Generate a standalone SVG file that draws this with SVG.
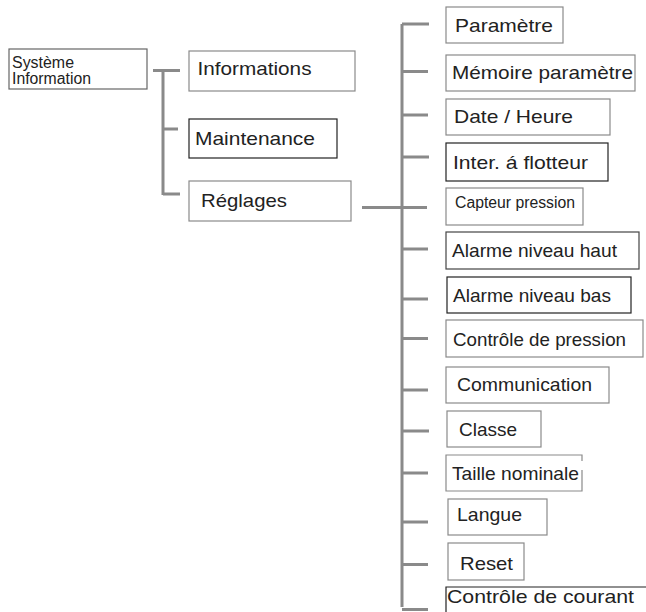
<svg xmlns="http://www.w3.org/2000/svg" width="646" height="612" viewBox="0 0 646 612">
<style>
  .box { fill: #fff; stroke: #8a8a8a; stroke-width: 1.2; }
  .dark { stroke: #222; }
  .mid { stroke: #444; }
  .t { font-family: "Liberation Sans", Arial, sans-serif; font-size: 19px; fill: #222; }
  .s { font-size: 16px; }
  .c { stroke: #8a8a8a; stroke-width: 3; fill: none; }
</style>
<rect width="646" height="612" fill="#fff"/>
<g id="connectors">
  <path class="c" d="M153,70.5 H180 M163,70.5 V195 M163,129 H178 M163,194 H180"/>
  <path class="c" d="M362,207.5 H427"/>
  <path class="c" d="M402,24 V607 M402,24 H429 M402,71.5 H428 M402,115 H428 M402,157 H429 M402,249 H428 M402,299 H428 M402,338.5 H428 M402,390 H428 M402,431 H429 M402,473 H428 M402,522 H428 M402,564.5 H428 M402,609.5 H428"/>
</g>
<g id="systeme"><rect class="box" style="stroke:#666" x="9" y="49" width="138" height="40"/><text class="t s" x="12" y="67.5" textLength="62" lengthAdjust="spacingAndGlyphs">Système</text><text class="t s" x="12" y="84" textLength="79" lengthAdjust="spacingAndGlyphs">Information</text></g>
<g id="informations"><rect class="box" x="189" y="51" width="166" height="40"/><text class="t" x="197.5" y="75" textLength="114" lengthAdjust="spacingAndGlyphs">Informations</text></g>
<g id="maintenance"><rect class="box dark" x="189" y="119" width="148" height="39"/><text class="t" x="195" y="144.5" textLength="120" lengthAdjust="spacingAndGlyphs">Maintenance</text></g>
<g id="reglages"><rect class="box" x="189" y="181" width="162" height="40"/><text class="t" x="201" y="206.5" textLength="86" lengthAdjust="spacingAndGlyphs">Réglages</text></g>
<g id="parametre"><rect class="box" x="446" y="7" width="117" height="36"/><text class="t" x="455" y="31.5" textLength="98" lengthAdjust="spacingAndGlyphs">Paramètre</text></g>
<g id="memoire"><rect class="box" x="446" y="55" width="189" height="36"/><text class="t" x="452" y="78.5" textLength="181" lengthAdjust="spacingAndGlyphs">Mémoire paramètre</text></g>
<g id="date"><rect class="box" x="446" y="99" width="164" height="36"/><text class="t" x="454" y="123" textLength="119" lengthAdjust="spacingAndGlyphs">Date / Heure</text></g>
<g id="inter"><rect class="box dark" x="446" y="143" width="162" height="38"/><text class="t" x="453" y="168.5" textLength="135" lengthAdjust="spacingAndGlyphs">Inter. á flotteur</text></g>
<g id="capteur"><rect class="box" x="446" y="188" width="137" height="37"/><text class="t s" x="455" y="208" textLength="120" lengthAdjust="spacingAndGlyphs">Capteur pression</text></g>
<g id="alarme-haut"><rect class="box mid" x="446" y="232" width="193" height="37"/><text class="t" x="452" y="256.5" textLength="165" lengthAdjust="spacingAndGlyphs">Alarme niveau haut</text></g>
<g id="alarme-bas"><rect class="box dark" x="447" y="277" width="184" height="36"/><text class="t" x="453" y="301.5" textLength="158" lengthAdjust="spacingAndGlyphs">Alarme niveau bas</text></g>
<g id="controle-pression"><rect class="box" x="446" y="320" width="197" height="37"/><text class="t" x="453" y="346" textLength="173" lengthAdjust="spacingAndGlyphs">Contrôle de pression</text></g>
<g id="communication"><rect class="box" x="446" y="367" width="163" height="36"/><text class="t" x="457" y="390.5" textLength="135" lengthAdjust="spacingAndGlyphs">Communication</text></g>
<g id="classe"><rect class="box" x="447" y="411" width="94" height="36"/><text class="t" x="459" y="436" textLength="58" lengthAdjust="spacingAndGlyphs">Classe</text></g>
<g id="taille"><path class="box" d="M582,461 V455 H446 V491 H582 V470"/><text class="t" x="452" y="480" textLength="127" lengthAdjust="spacingAndGlyphs">Taille nominale</text></g>
<g id="langue"><rect class="box" x="448" y="499" width="99" height="36"/><text class="t" x="457" y="521" textLength="65" lengthAdjust="spacingAndGlyphs">Langue</text></g>
<g id="reset"><rect class="box" x="448" y="543" width="76" height="37"/><text class="t" x="460" y="569.5" textLength="53" lengthAdjust="spacingAndGlyphs">Reset</text></g>
<g id="controle-courant"><path class="box dark" d="M446,612 V587 H646"/><text class="t" x="447" y="603" textLength="187" lengthAdjust="spacingAndGlyphs">Contrôle de courant</text></g>
</svg>
